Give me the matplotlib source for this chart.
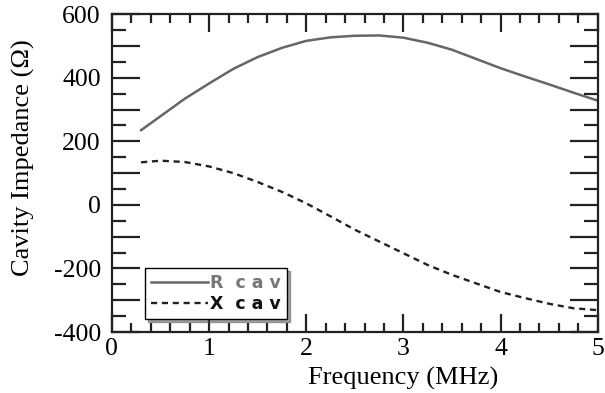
import numpy as np
import matplotlib
matplotlib.use("Agg")
import matplotlib.pyplot as plt
from matplotlib.ticker import MultipleLocator, FuncFormatter

# Data
freq = [0.3, 0.5, 0.75, 1.0, 1.25, 1.5, 1.75, 2.0, 2.25, 2.5,
        2.75, 3.0, 3.25, 3.5, 3.75, 4.0, 4.25, 4.5, 4.75, 5.0]
r_cav = [235, 279, 334, 382, 428, 465, 494, 516, 527, 532,
         533, 526, 510, 488, 459, 430, 404, 379, 353, 328]
x_cav = [134, 139, 135, 121, 100, 72, 41, 5, -36, -78,
         -115, -152, -189, -220, -247, -274, -293, -311, -325, -331]

labels = ["R  c a v", "X  c a v"]

plt.rcParams['font.family'] = ['Liberation Serif', 'DejaVu Serif']

fig = plt.figure(figsize=(6.05, 3.93), dpi=100)
ax = fig.add_axes([0.185, 0.155, 0.803, 0.809])

ax.plot(freq, r_cav, color='#666666', lw=1.8, label=labels[0], solid_joinstyle='round')
ax.plot(freq, x_cav, color='#222222', lw=1.7, ls=(0, (2.6, 2.0)), label=labels[1])

ax.set_xlim(0, 5)
ax.set_ylim(-400, 600)

# axes decoration
for s in ax.spines.values():
    s.set_linewidth(1.6)
    s.set_color('#222222')

ax.xaxis.set_major_locator(MultipleLocator(1))
ax.xaxis.set_minor_locator(MultipleLocator(0.2))
ax.yaxis.set_major_locator(MultipleLocator(100))
ax.yaxis.set_minor_locator(MultipleLocator(50))
ax.yaxis.set_major_formatter(FuncFormatter(lambda v, p: f"{int(round(v))}" if round(v) % 200 == 0 else ""))

ax.tick_params(which='both', direction='in', top=True, right=True, width=1.6, color='#222222',
               labelsize=18.5)
ax.tick_params(axis='x', which='major', length=13, pad=4)
ax.tick_params(axis='x', which='minor', length=6.5)
ax.tick_params(axis='y', which='major', length=20, pad=8)
ax.tick_params(axis='y', which='minor', length=10)

ax.set_xlabel("Frequency (MHz)", fontsize=19)
ax.xaxis.set_label_coords(0.6, -0.11)
ax.set_ylabel("Cavity Impedance (Ω)", fontsize=19)
ax.yaxis.set_label_coords(-0.158, 0.55)

leg = ax.legend(loc='lower left', bbox_to_anchor=(0.068, 0.041), borderaxespad=0,
                fancybox=False, shadow=True, edgecolor='black', framealpha=1,
                handlelength=3.3, handletextpad=0.1, labelspacing=0.15,
                borderpad=0.35, prop={'family': 'DejaVu Sans', 'weight': 'bold', 'size': 12.5})
leg.get_frame().set_linewidth(1.0)
leg.get_texts()[0].set_color('#777777')
leg.get_texts()[1].set_color('#111111')

fig.savefig("out.png", dpi=100)
